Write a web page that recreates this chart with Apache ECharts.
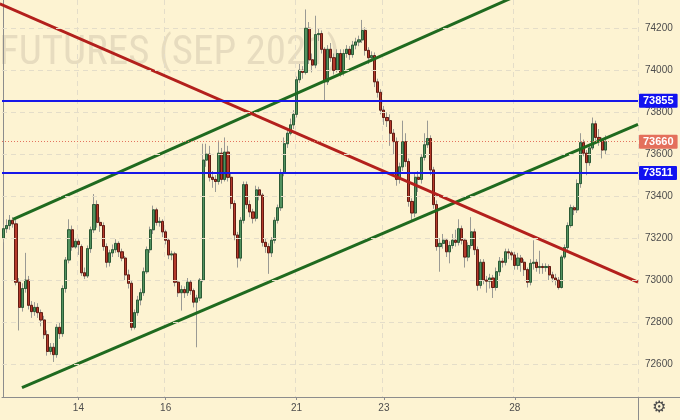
<!DOCTYPE html>
<html>
<head>
<meta charset="utf-8">
<script src="https://cdn.jsdelivr.net/npm/echarts@6/dist/echarts.min.js"></script>
<style>
  html, body { margin: 0; padding: 0; background: #fdf3d2; }
  #chart { width: 680px; height: 420px; }
</style>
</head>
<body>
<div id="chart"></div>
<script>
// trading days shown and how many hourly candles each one has on screen
const days = ['10', '13', '14', '15', '16', '17', '20', '21', '22', '23', '24', '27', '28', '29']
const candlesPerDay = [10, 14, 14, 14, 14, 14, 14, 14, 14, 14, 14, 14, 14, 16]
const labelledDays = ['14', '16', '21', '23', '28']
const yTicks = [72600, 72800, 73000, 73200, 73400, 73600, 73800, 74000, 74200]

// candles: [open, close, low, high]
const day10 = [
  [73200, 73245, 73180, 73265], [73245, 73260, 73225, 73290], [73260, 73285, 73240, 73310],
  [73285, 73268, 73250, 73300], [73268, 72990, 72975, 73290], [72990, 72870, 72760, 73010],
  [72870, 72960, 72850, 72985], [72960, 73000, 72940, 73130], [73000, 72880, 72860, 73020],
  [72880, 72850, 72820, 72900]
]
const day13 = [
  [72850, 72870, 72830, 72895], [72870, 72845, 72820, 72890], [72845, 72810, 72780, 72860],
  [72810, 72740, 72720, 72830], [72740, 72660, 72640, 72760], [72660, 72680, 72645, 72700],
  [72680, 72645, 72610, 72700], [72645, 72775, 72630, 72790], [72775, 72745, 72720, 72800],
  [72745, 72960, 72730, 72975], [72960, 73096, 72940, 73110], [73096, 73240, 73080, 73290],
  [73240, 73158, 73140, 73260], [73158, 73185, 73150, 73200]
]
const day14 = [
  [73185, 73170, 73120, 73195], [73160, 73035, 73020, 73170], [73035, 73020, 73005, 73060],
  [73020, 73150, 73010, 73165], [73150, 73240, 73130, 73255], [73240, 73360, 73225, 73410],
  [73360, 73275, 73250, 73380], [73275, 73260, 73230, 73300], [73260, 73160, 73140, 73275],
  [73160, 73085, 73060, 73175], [73085, 73130, 73065, 73145], [73130, 73145, 73110, 73170],
  [73145, 73175, 73130, 73195], [73175, 73135, 73110, 73185]
]
const day15 = [
  [73135, 73105, 73090, 73150], [73105, 73025, 73000, 73115], [73025, 72985, 72960, 73050],
  [72985, 72775, 72760, 73000], [72775, 72845, 72765, 72860], [72845, 72905, 72830, 72925],
  [72905, 72940, 72880, 72960], [72940, 73040, 72925, 73060], [73040, 73145, 73030, 73160],
  [73145, 73240, 73130, 73255], [73240, 73335, 73220, 73355], [73335, 73275, 73260, 73345],
  [73275, 73280, 73255, 73300], [73280, 73230, 73205, 73290]
]
const day16 = [
  [73230, 73190, 73170, 73240], [73190, 73120, 73100, 73200], [73120, 73125, 73095, 73140],
  [73125, 72990, 72970, 73135], [72990, 72940, 72920, 73000], [72940, 72955, 72855, 72975],
  [72955, 72940, 72915, 72970], [72940, 72990, 72925, 73010], [72990, 72950, 72930, 73000],
  [72950, 72895, 72870, 72960], [72895, 72915, 72680, 72930], [72915, 73000, 72900, 73010],
  [73000, 73572, 72990, 73650], [73572, 73600, 73540, 73650]
]
const day17 = [
  [73600, 73490, 73470, 73640], [73490, 73480, 73440, 73520], [73480, 73470, 73420, 73500],
  [73470, 73605, 73455, 73665], [73605, 73480, 73460, 73630], [73480, 73610, 73470, 73680],
  [73610, 73490, 73470, 73640], [73490, 73365, 73340, 73510], [73365, 73215, 73190, 73380],
  [73215, 73105, 73060, 73230], [73105, 73285, 73090, 73300], [73285, 73455, 73270, 73470],
  [73455, 73360, 73340, 73470], [73360, 73325, 73300, 73380]
]
const day20 = [
  [73325, 73295, 73270, 73340], [73295, 73430, 73280, 73450], [73430, 73405, 73380, 73445],
  [73405, 73180, 73160, 73415], [73180, 73160, 73130, 73200], [73160, 73130, 73030, 73175],
  [73130, 73190, 73110, 73205], [73190, 73285, 73175, 73300], [73285, 73345, 73270, 73360],
  [73345, 73510, 73330, 73530], [73510, 73650, 73495, 73680], [73650, 73700, 73630, 73720],
  [73700, 73740, 73690, 73770], [73740, 73790, 73720, 73810]
]
const day21 = [
  [73790, 73955, 73775, 73970], [73955, 74000, 73940, 74030], [74000, 73990, 73960, 74020],
  [73990, 74200, 73980, 74290], [74200, 74050, 74030, 74230], [74050, 74025, 73990, 74080],
  [74025, 74170, 74010, 74260], [74170, 74175, 74140, 74200], [74175, 74100, 74080, 74190],
  [74100, 73945, 73850, 74110], [73945, 74100, 73930, 74120], [74100, 74060, 74040, 74130],
  [74060, 74000, 73980, 74080], [74000, 74080, 73990, 74100]
]
const day22 = [
  [74080, 73990, 73970, 74100], [73990, 74080, 73975, 74100], [74080, 74100, 74060, 74120],
  [74100, 74075, 74050, 74115], [74075, 74120, 74060, 74140], [74120, 74135, 74100, 74155],
  [74135, 74145, 74115, 74165], [74145, 74190, 74130, 74240], [74190, 74095, 74070, 74205],
  [74095, 74060, 74030, 74110], [74060, 74070, 74040, 74090], [74070, 73945, 73920, 74085],
  [73945, 73895, 73870, 73960], [73895, 73810, 73790, 73910]
]
const day23 = [
  [73810, 73775, 73740, 73830], [73775, 73760, 73730, 73800], [73760, 73700, 73640, 73790],
  [73700, 73660, 73600, 73720], [73660, 73480, 73450, 73680], [73480, 73540, 73460, 73560],
  [73540, 73660, 73520, 73760], [73660, 73565, 73540, 73700], [73565, 73375, 73350, 73580],
  [73375, 73320, 73285, 73390], [73320, 73490, 73300, 73510], [73490, 73480, 73420, 73520],
  [73480, 73585, 73460, 73600], [73585, 73645, 73570, 73700]
]
const day24 = [
  [73645, 73675, 73630, 73760], [73675, 73525, 73500, 73690], [73525, 73360, 73340, 73540],
  [73360, 73160, 73140, 73380], [73160, 73175, 73040, 73200], [73175, 73190, 73150, 73220],
  [73190, 73135, 73110, 73200], [73135, 73165, 73080, 73185], [73165, 73190, 73150, 73220],
  [73190, 73180, 73160, 73240], [73180, 73245, 73165, 73290], [73245, 73190, 73170, 73260],
  [73190, 73110, 73060, 73200], [73110, 73165, 73090, 73180]
]
const day27 = [
  [73165, 73230, 73150, 73300], [73230, 73145, 73120, 73245], [73145, 72975, 72950, 73160],
  [72975, 73085, 72960, 73100], [73085, 73000, 72980, 73100], [73000, 72995, 72940, 73020],
  [72995, 73010, 72960, 73030], [73010, 72965, 72915, 73025], [72965, 73040, 72950, 73060],
  [73040, 73090, 73020, 73110], [73090, 73085, 73060, 73105], [73085, 73135, 73070, 73150],
  [73135, 73130, 73100, 73150], [73130, 73120, 73095, 73140]
]
const day28 = [
  [73120, 73070, 73050, 73135], [73070, 73105, 73050, 73130], [73105, 73085, 73040, 73120],
  [73085, 73050, 73020, 73100], [73050, 72990, 72965, 73060], [72990, 73080, 72975, 73100],
  [73080, 73085, 73050, 73190], [73085, 73060, 73040, 73100], [73060, 73065, 73030, 73140],
  [73065, 73060, 73030, 73080], [73060, 73065, 73040, 73080], [73065, 73025, 73000, 73075],
  [73025, 73010, 72990, 73040], [73010, 73000, 72975, 73030]
]
const day29 = [
  [73000, 72965, 72955, 73015], [72965, 73110, 72960, 73120], [73110, 73155, 73100, 73170],
  [73155, 73260, 73140, 73275], [73260, 73345, 73250, 73360], [73345, 73335, 73310, 73355],
  [73335, 73460, 73320, 73480], [73460, 73655, 73440, 73700], [73655, 73605, 73590, 73670],
  [73605, 73560, 73500, 73620], [73560, 73630, 73545, 73650], [73630, 73745, 73620, 73775],
  [73745, 73680, 73665, 73760], [73680, 73668, 73640, 73720], [73668, 73620, 73580, 73680],
  [73620, 73660, 73600, 73690]
]

// drawn levels and trend lines: [candle index, price]
const levelsBlue = [73855, 73511]
const lastPrice = 73660
const redLine = [[-1.2, 74317], [203.5, 72990]]
const greenUpper = [[3, 73290], [203.5, 74612]]
const greenLower = [[5.9, 72488], [203.5, 73742]]

const N_SLOTS = 204
const candles = [].concat(day10, day13, day14, day15, day16, day17, day20, day21, day22, day23, day24, day27, day28, day29)

const categories = []
const labelFlags = []
days.forEach((d, k) => {
  for (let j = 0; j < candlesPerDay[k]; j++) {
    categories.push(d + '-' + j)
    labelFlags.push(j === 0 && labelledDays.includes(d))
  }
})
while (categories.length < N_SLOTS) {
  categories.push('x' + categories.length)
  labelFlags.push(false)
}
const showAt = (index) => labelFlags[index]

const bodies = candles.map(c => [c[0], c[1], Math.min(c[0], c[1]), Math.max(c[0], c[1])])

const gridDash = { color: '#e4ddc9', type: [5, 4], width: 1 }
const boxLabel = (bg) => ({
  show: true,
  position: 'end',
  distance: 1,
  formatter: (p) => String(p.value),
  color: '#fff',
  fontWeight: 'bold',
  fontSize: 11,
  fontFamily: 'Liberation Sans',
  backgroundColor: bg,
  padding: [2, 4, 1, 4],
  borderRadius: 1
})

const chart = echarts.init(document.getElementById('chart'), null, { renderer: 'canvas' })
chart.setOption({
  animation: false,
  backgroundColor: '#fdf3d2',
  grid: { left: 2, right: 42, top: 0, bottom: 23 },
  graphic: [
    {
      type: 'text',
      left: -1,
      top: 33,
      z: -10,
      style: {
        text: 'FUTURES (SEP 2021)',
        font: '41px "Liberation Sans Narrow", "Roboto Condensed", sans-serif',
        fill: '#e7dcbf'
      }
    },
    { type: 'line', z: 10, shape: { x1: 638, y1: 397.5, x2: 680, y2: 397.5 }, style: { stroke: '#8c8c8c', lineWidth: 1 } },
    { type: 'line', z: 10, shape: { x1: 638.5, y1: 397, x2: 638.5, y2: 420 }, style: { stroke: '#8c8c8c', lineWidth: 1 } },
    {
      type: 'text',
      left: 652,
      top: 400,
      z: 10,
      style: { text: '\u2699', font: '16px "DejaVu Sans"', fill: '#4a4a4a' }
    }
  ],
  xAxis: [
    {
      type: 'category',
      data: categories,
      boundaryGap: true,
      axisLine: { show: true, lineStyle: { color: '#8c8c8c' } },
      axisTick: { show: true, interval: showAt, alignWithLabel: true, length: 3, lineStyle: { color: '#8c8c8c' } },
      axisLabel: {
        interval: showAt,
        formatter: (v) => v.split('-')[0],
        color: '#4d4d4d',
        fontSize: 10,
        fontFamily: 'Liberation Sans',
        margin: 6
      },
      splitLine: { show: true, interval: showAt, lineStyle: gridDash }
    },
    { type: 'value', show: false, min: -0.5, max: N_SLOTS - 0.5 }
  ],
  yAxis: {
    type: 'value',
    position: 'right',
    min: 72443,
    max: 74335,
    splitNumber: 9,
    axisLine: { show: true, lineStyle: { color: '#8c8c8c' } },
    axisTick: { show: true, length: 3, lineStyle: { color: '#8c8c8c' } },
    splitLine: { show: false },
    axisLabel: {
      color: '#4d4d4d',
      fontSize: 10,
      fontFamily: 'Liberation Sans',
      margin: 7,
      showMinLabel: false,
      showMaxLabel: false,
      formatter: (v) => (yTicks.includes(v) ? String(v) : '')
    }
  },
  series: [
    {
      // horizontal grid lines
      type: 'line',
      xAxisIndex: 1,
      data: [],
      z: 1,
      silent: true,
      markLine: {
        symbol: 'none',
        silent: true,
        label: { show: false },
        lineStyle: gridDash,
        data: yTicks.map(v => ({ yAxis: v }))
      }
    },
    {
      // wicks
      type: 'candlestick',
      data: candles,
      barWidth: 2.6,
      z: 2,
      itemStyle: {
        color: 'transparent',
        color0: 'transparent',
        borderColor: '#9a9a94',
        borderColor0: '#9a9a94',
        borderWidth: 1
      }
    },
    {
      // bodies
      type: 'candlestick',
      data: bodies,
      barWidth: 2.6,
      z: 3,
      itemStyle: {
        color: '#52925f',
        color0: '#b53a2b',
        borderColor: '#2b5b36',
        borderColor0: '#621c12',
        borderWidth: 1
      }
    },
    {
      type: 'line',
      xAxisIndex: 1,
      data: greenUpper,
      symbol: 'none',
      z: 4,
      lineStyle: { color: '#1f6a1f', width: 3 }
    },
    {
      type: 'line',
      xAxisIndex: 1,
      data: greenLower,
      symbol: 'none',
      z: 4,
      lineStyle: { color: '#1f6a1f', width: 3 }
    },
    {
      type: 'line',
      xAxisIndex: 1,
      data: redLine,
      symbol: 'none',
      z: 4,
      lineStyle: { color: '#b3201c', width: 3 }
    },
    {
      // levels with price boxes on the axis
      type: 'line',
      xAxisIndex: 1,
      data: [],
      z: 5,
      markLine: {
        symbol: 'none',
        silent: true,
        data: [
          ...levelsBlue.map(v => ({
            yAxis: v,
            lineStyle: { color: '#1717e8', width: 2, type: 'solid' },
            label: boxLabel('#1212f0')
          })),
          {
            yAxis: lastPrice,
            lineStyle: { color: '#e4735f', width: 1, type: [1, 2] },
            label: boxLabel('#e4705c')
          }
        ]
      }
    }
  ]
})
</script>
</body>
</html>
